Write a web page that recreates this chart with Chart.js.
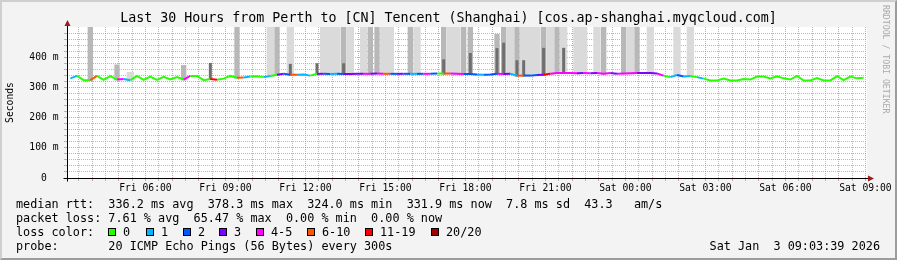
<!DOCTYPE html>
<html>
<head>
<meta charset="utf-8">
<title>Smokeping - Perth to Tencent Shanghai</title>
<script src="https://cdn.jsdelivr.net/npm/chart.js@4/dist/chart.umd.min.js"></script>
<style>
  html, body { margin: 0; padding: 0; background: #f3f3f3; }
  #frame { position: relative; width: 897px; height: 260px; overflow: hidden;
           font-family: 'DejaVu Sans Mono', monospace; color: #000; }
  #frame canvas { position: absolute; left: 0; top: 0; }
  #edge { position: absolute; left: 0; top: 0; right: 0; bottom: 0; pointer-events: none;
          border-style: solid; border-width: 2px; border-color: #cfcfcf #9c9c9c #9c9c9c #cfcfcf; }
  #title { position: absolute; left: 0; top: 10px; width: 897px; text-align: center;
           font-size: 13.3px; line-height: 16px; white-space: pre; }
  #vert { position: absolute; left: 881px; top: 5px; writing-mode: vertical-rl;
          font-size: 8.2px; color: #aaa; white-space: pre; }
  .row { position: absolute; left: 16px; font-size: 11.8px; line-height: 14px; white-space: pre; }
  .sw { position: absolute; top: 228px; width: 6px; height: 6px; border: 1px solid #000; }
  .swl { position: absolute; top: 225px; font-size: 11.8px; line-height: 14px; white-space: pre; }
  #stamp { position: absolute; right: 17px; top: 239px; font-size: 11.8px; line-height: 14px; white-space: pre; }
</style>
</head>
<body>
<div id="frame">
  <canvas id="smokeChart" width="897" height="260"></canvas>
  <div id="title">Last 30 Hours from Perth to [CN] Tencent (Shanghai) [cos.ap-shanghai.myqcloud.com]</div>
  <div id="vert">RRDTOOL / TOBI OETIKER</div>
  <div class="row" style="top:197px">median rtt:  336.2 ms avg  378.3 ms max  324.0 ms min  331.9 ms now  7.8 ms sd  43.3   am/s</div>
  <div class="row" style="top:211px">packet loss: 7.61 % avg  65.47 % max  0.00 % min  0.00 % now</div>
  <div class="row" style="top:225px">loss color:</div>
  <div id="lossLegend"></div>
  <div class="row" style="top:239px">probe:       20 ICMP Echo Pings (56 Bytes) every 300s</div>
  <div id="stamp">Sat Jan  3 09:03:39 2026</div>
  <div id="edge"></div>
</div>
<script>
// time in hours since Fri 00:00, one value every 15 minutes
const startHour = 3 + 3 / 60 + 39 / 3600;
const endHour = startHour + 30;
const binHours = 0.25;

// median rtt (ms) per 15 min bin
const medianMs = [
  330, 338, 324, 324, 338, 325, 337, 326, 328, 324,
  338, 325, 336, 325, 335, 326, 334, 326, 338, 338,
  324, 328, 325, 329, 338, 332, 333, 336, 337, 334,
  338, 342, 345, 342, 342, 343, 339, 345, 345, 344,
  345, 344, 344, 345, 345, 345, 346, 345, 345, 345,
  345, 345, 345, 345, 345, 346, 346, 346, 345, 344,
  344, 343, 342, 343, 345, 344, 345, 339, 339, 339,
  341, 342, 345, 348, 348, 348, 347, 348, 347, 348,
  345, 348, 345, 346, 347, 348, 348, 348, 346, 339,
  334, 341, 336, 338, 334, 329, 323, 323, 329, 323,
  323, 328, 326, 336, 336, 330, 337, 330, 326, 338,
  323, 323, 331, 323, 323, 337, 324, 336, 330, 332
];

// loss bucket per bin: 0=0, 1=1, 2=2, 3=3, 4=4-5, 5=6-10, 6=11-19, 7=20/20
const lossIdx = [
  1, 0, 0, 5, 0, 0, 0, 4, 1, 0,
  0, 0, 0, 0, 0, 0, 0, 4, 0, 0,
  0, 6, 0, 0, 0, 5, 1, 0, 0, 1,
  0, 3, 2, 5, 1, 1, 0, 3, 2, 1,
  2, 3, 3, 3, 4, 3, 4, 5, 2, 3,
  2, 1, 2, 4, 2, 0, 5, 4, 4, 2,
  2, 1, 2, 2, 4, 3, 1, 5, 2, 2,
  3, 6, 4, 4, 4, 4, 3, 4, 3, 4,
  4, 3, 4, 4, 4, 3, 3, 3, 4, 0,
  1, 2, 1, 0, 1, 0, 0, 0, 0, 0,
  0, 0, 0, 0, 0, 0, 0, 0, 0, 0,
  0, 0, 0, 0, 0, 0, 0, 0, 0, 0
];

const lossLabels = ['0', '1', '2', '3', '4-5', '6-10', '11-19', '20/20'];
const lossColors = ['#26ff00', '#00b8ff', '#0059ff', '#7e00ff', '#ff00ff', '#ff5500', '#ff0000', '#a10000'];

// smoke: bins with scattered pings, and the highest ping (ms) in each shade
const lightBins = [9, 30, 33, 38, 39, 40, 42, 44, 47, 48, 52, 57, 58, 66, 68, 69, 70, 72, 74, 76, 77, 79, 84, 87, 91, 93];
const lightTop  = [350, 500, 500, 500, 500, 500, 500, 500, 500, 500, 500, 500, 500, 500, 500, 500, 500, 500, 500, 500, 500, 500, 500, 500, 500, 500];
const midBins = [3, 7, 17, 25, 31, 41, 45, 46, 51, 56, 59, 60, 64, 65, 67, 71, 73, 80, 83, 85];
const midTop  = [500, 376, 374, 500, 500, 500, 500, 500, 500, 500, 500, 500, 477, 500, 500, 500, 500, 500, 500, 500];
const darkBins = [21, 33, 37, 41, 56, 60, 64, 65, 67, 68, 71, 74];
const darkTop  = [381, 378, 380, 380, 393, 414, 430, 448, 390, 390, 431, 431];

// axis labels
const xLabelHours = [6, 9, 12, 15, 18, 21, 24, 27, 30, 33];
const xLabels = ['Fri 06:00', 'Fri 09:00', 'Fri 12:00', 'Fri 15:00', 'Fri 18:00',
                 'Fri 21:00', 'Sat 00:00', 'Sat 03:00', 'Sat 06:00', 'Sat 09:00'];
const yLabelValues = [0, 100, 200, 300, 400];
const yLabels = ['0  ', '100 m', '200 m', '300 m', '400 m'];

const tickFont = { family: 'DejaVu Sans Mono', size: 9.7 };
const majorGrid = 'rgba(235, 70, 70, 0.55)';
const minorGrid = 'rgba(140, 140, 140, 0.6)';
const noGrid = 'rgba(0, 0, 0, 0)';

const binTime = i => startHour + (i + 0.5) * binHours;

function smokeData(bins, tops) {
  return bins.map((b, k) => ({ x: binTime(b), y: [medianMs[b] - 3, tops[k]] }));
}

const xTicks = [];
for (let h = Math.ceil(startHour * 2) / 2; h <= endHour; h += 0.5) xTicks.push(h);

function xGrid(c) {
  if (!c.tick) return noGrid;
  return Number.isInteger(c.tick.value) ? majorGrid : minorGrid;
}
function yGrid(c) {
  if (!c.tick) return noGrid;
  const v = c.tick.value;
  if (v === 0 || v >= 500) return noGrid;
  return v % 100 === 0 ? majorGrid : minorGrid;
}

const plotFrame = {
  id: 'plotFrame',
  beforeDraw(chart) {
    const { ctx, chartArea: a } = chart;
    ctx.save();
    ctx.fillStyle = '#fff';
    ctx.fillRect(a.left, a.top, a.right - a.left, a.bottom - a.top);
    ctx.restore();
  },
  afterDraw(chart) {
    const { ctx, chartArea: a } = chart;
    const x0 = Math.round(a.left) + 0.5;
    const y0 = Math.round(a.bottom) + 0.5;
    ctx.save();
    ctx.strokeStyle = '#000';
    ctx.lineWidth = 1;
    ctx.beginPath();
    ctx.moveTo(x0, y0 + 3);
    ctx.lineTo(x0, a.top - 2);
    ctx.moveTo(x0 - 4, y0);
    ctx.lineTo(a.right + 2, y0);
    ctx.stroke();
    ctx.fillStyle = '#9b1b1b';
    ctx.beginPath();
    ctx.moveTo(x0, a.top - 7);
    ctx.lineTo(x0 - 3, a.top - 1);
    ctx.lineTo(x0 + 3, a.top - 1);
    ctx.closePath();
    ctx.fill();
    ctx.beginPath();
    ctx.moveTo(a.right + 7, y0);
    ctx.lineTo(a.right + 1, y0 - 3);
    ctx.lineTo(a.right + 1, y0 + 3);
    ctx.closePath();
    ctx.fill();
    ctx.restore();
  }
};

function buildLegend() {
  const swatchX = [108, 146, 183, 219, 256, 307, 365, 431];
  const box = document.getElementById('lossLegend');
  lossLabels.forEach((lbl, i) => {
    const sw = document.createElement('div');
    sw.className = 'sw';
    sw.style.left = swatchX[i] + 'px';
    sw.style.background = lossColors[i];
    box.appendChild(sw);
    const tx = document.createElement('div');
    tx.className = 'swl';
    tx.style.left = (swatchX[i] + 15) + 'px';
    tx.textContent = lbl;
    box.appendChild(tx);
  });
}

function initChart() {
  buildLegend();
  const ctx = document.getElementById('smokeChart').getContext('2d');
  new Chart(ctx, {
    type: 'bar',
    data: {
      datasets: [
        {
          type: 'line',
          data: medianMs.map((v, i) => ({ x: binTime(i), y: v })),
          borderColor: lossColors[0],
          borderWidth: 2,
          pointRadius: 0,
          tension: 0,
          segment: { borderColor: c => lossColors[lossIdx[c.p0DataIndex]] },
          order: 0
        },
        {
          data: smokeData(darkBins, darkTop),
          backgroundColor: '#6e6e6e',
          barPercentage: 0.45, categoryPercentage: 1, grouped: false, order: 1
        },
        {
          data: smokeData(midBins, midTop),
          backgroundColor: '#b8b8b8',
          barPercentage: 0.8, categoryPercentage: 1, grouped: false, order: 2
        },
        {
          data: smokeData(lightBins, lightTop),
          backgroundColor: '#dadada',
          barPercentage: 1, categoryPercentage: 1, grouped: false, order: 3
        }
      ]
    },
    options: {
      responsive: false,
      animation: false,
      events: [],
      layout: { padding: { top: 27, left: 0, right: 30, bottom: 62 } },
      plugins: { legend: { display: false }, tooltip: { enabled: false } },
      scales: {
        x: {
          type: 'linear',
          offset: false,
          bounds: 'data',
          min: startHour,
          max: endHour,
          afterBuildTicks: s => { s.ticks = xTicks.map(v => ({ value: v })); },
          afterFit: s => { s.height = 20; },
          ticks: {
            autoSkip: false, maxRotation: 0, minRotation: 0, padding: 2,
            font: tickFont, color: '#000',
            callback: v => { const k = xLabelHours.indexOf(v); return k < 0 ? '' : xLabels[k]; }
          },
          grid: { offset: false, color: xGrid, tickColor: xGrid, tickLength: 3 },
          border: { display: false, dash: [1, 1] }
        },
        y: {
          min: 0,
          max: 500,
          afterFit: s => { s.width = 67; },
          ticks: {
            stepSize: 20, autoSkip: false, padding: 5.5,
            font: tickFont, color: '#000',
            callback: v => { const k = yLabelValues.indexOf(v); return k < 0 ? '' : yLabels[k]; }
          },
          grid: { color: yGrid, tickColor: yGrid, tickLength: 3 },
          border: { display: false, dash: [1, 1] },
          title: { display: true, text: 'Seconds', font: tickFont, color: '#000', padding: { top: 5, bottom: 0 } }
        }
      }
    },
    plugins: [plotFrame]
  });
}

window.onload = initChart;
</script>
</body>
</html>
